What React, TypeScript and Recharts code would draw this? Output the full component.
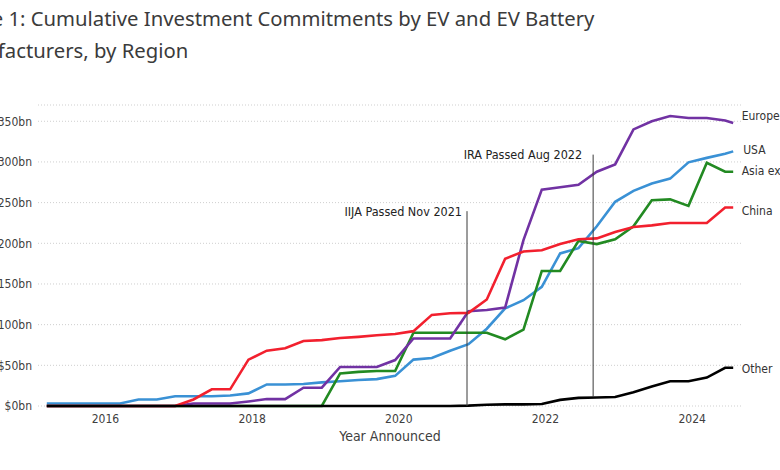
import { LineChart, Line, XAxis, YAxis, CartesianGrid, ReferenceLine, LabelList, Label } from 'recharts'

// quarterly points, last one is the partial latest reading
const years = [
  2015.2, 2015.45, 2015.7, 2015.95, 2016.2, 2016.45, 2016.7, 2016.95, 2017.2, 2017.45,
  2017.7, 2017.95, 2018.2, 2018.45, 2018.7, 2018.95, 2019.2, 2019.45, 2019.7, 2019.95,
  2020.2, 2020.45, 2020.7, 2020.95, 2021.2, 2021.45, 2021.7, 2021.95, 2022.2, 2022.45,
  2022.7, 2022.95, 2023.2, 2023.45, 2023.7, 2023.95, 2024.2, 2024.45, 2024.56,
]

// cumulative commitments, $bn
const usa = [
  3, 3, 3, 3, 3, 8, 8, 12, 12, 12,
  13, 15.5, 26.5, 26.5, 27, 29, 30.5, 32, 33, 37,
  57, 59, 68, 76, 95, 120, 130, 146.5, 187.5, 194,
  221, 251, 264.5, 273.5, 279.5, 299.5, 305, 310, 313,
]
const europe = [
  0, 0, 0, 0, 0, 0, 0, 0, 3, 3,
  3, 5.5, 8.5, 8.5, 22.5, 22.5, 48, 48, 48, 56.5,
  83, 83, 83, 116.5, 118, 121, 204, 266, 269, 272,
  288, 297, 340, 350, 356.5, 354, 354, 351, 348,
]
const asiaExChina = [
  0, 0, 0, 0, 0, 0, 0, 0, 0, 0,
  0, 0, 0, 0, 0, 0, 40, 42, 43, 43,
  90, 90, 90, 90, 90, 82, 94, 166, 166, 203,
  199, 205, 221, 253, 254, 246, 299, 288, 288,
]
const china = [
  0, 0, 0, 0, 0, 0, 0, 0, 8, 20.5,
  20.5, 57, 68, 71, 80, 81, 83.5, 85, 87, 88.5,
  92, 112, 114, 114.5, 131, 181, 190, 191.5, 199, 205,
  206, 214, 220, 222, 225, 225, 225, 244, 244,
]
const other = [
  0, 0, 0, 0, 0, 0, 0, 0, 0, 0,
  0, 0, 0, 0, 0, 0, 0, 0, 0, 0,
  0, 0, 0, 0.5, 1.5, 2, 2, 2.5, 7.5, 10,
  10.5, 11, 17, 24, 30.5, 30.5, 35, 47, 47,
]

const yearTicks = [2016, 2018, 2020, 2022, 2024]
const valueTicks = [0, 50, 100, 150, 200, 250, 300, 350]

// policy markers: label, date, and the span the marker line covers ($bn)
const actNames = ['IIJA Passed Nov 2021', 'IRA Passed Aug 2022']
const actYears = [2020.93, 2022.65]
const actFrom = [0, 11]
const actTo = [239.5, 309]

const data = years.map((year, i) => ({
  year,
  usa: usa[i],
  europe: europe[i],
  asia: asiaExChina[i],
  china: china[i],
  other: other[i],
}))

const labelFont = "'DejaVu Sans Condensed', 'DejaVu Sans', sans-serif"
const titleFont = "'Noto Sans', sans-serif"
const ink = '#404040'

const series = [
  { key: 'usa', name: 'USA', color: '#3a91d5', dx: 10, dy: -1 },
  { key: 'asia', name: 'Asia ex China', color: '#228a22', dx: 8.5, dy: -1 },
  { key: 'europe', name: 'Europe', color: '#7132a3', dx: 8.5, dy: -7 },
  { key: 'china', name: 'China', color: '#f2202e', dx: 8.5, dy: 3.5 },
  { key: 'other', name: 'Other', color: '#000000', dx: 8.5, dy: 1.5 },
]
const actGap = [5, 11]

const endLabel = (name: string, dx: number, dy: number) => (props: any) => {
  const { x, y, index } = props
  if (index !== years.length - 1) return null
  return (
    <text x={x + dx} y={y + dy} dominantBaseline="central" fontFamily={labelFont} fontSize={12} fill="#333">
      {name}
    </text>
  )
}

export default function App() {
  return (
    <div style={{ position: 'absolute', left: 0, top: 0, width: 780, height: 470, overflow: 'hidden', background: '#fff' }}>
      <LineChart width={780} height={470} data={data} margin={{ top: 105, right: 38, left: 0, bottom: 24 }}>
        <CartesianGrid vertical={false} stroke="#cfcfcf" strokeDasharray="1 2" />
        <XAxis
          dataKey="year"
          type="number"
          scale="linear"
          domain={[2015.08, 2024.68]}
          ticks={yearTicks}
          axisLine={false}
          tickLine={false}
          height={40}
          tick={{ fill: ink, fontSize: 12, fontFamily: labelFont }}
        >
          <Label
            value="Year Announced"
            position="insideBottom"
            offset={5}
            style={{ fill: ink, fontSize: 14, fontFamily: labelFont }}
          />
        </XAxis>
        <YAxis
          type="number"
          domain={[0, 370]}
          ticks={valueTicks}
          width={38}
          axisLine={false}
          tickLine={false}
          tickMargin={0}
          tickFormatter={(v) => `$${v}bn`}
          tick={{ fill: ink, fontSize: 12, fontFamily: labelFont }}
        />
        {series.map((s) => (
          <Line
            key={s.key}
            type="linear"
            dataKey={s.key}
            stroke={s.color}
            strokeWidth={2.6}
            dot={false}
            isAnimationActive={false}
          >
            <LabelList dataKey={s.key} content={endLabel(s.name, s.dx, s.dy)} />
          </Line>
        ))}
        {actNames.map((name, i) => (
          <ReferenceLine
            key={name}
            segment={[
              { x: actYears[i], y: actFrom[i] },
              { x: actYears[i], y: actTo[i] },
            ]}
            stroke="#3a3a3a"
            strokeWidth={1}
            label={(p: any) => (
              <text
                x={p.viewBox.x - actGap[i]}
                y={p.viewBox.y}
                textAnchor="end"
                dominantBaseline="central"
                fontFamily={labelFont}
                fontSize={12.5}
                fill="#222"
              >
                {name}
              </text>
            )}
          />
        ))}
      </LineChart>
      <svg width={780} height={70} style={{ position: 'absolute', left: 0, top: 0 }}>
        <text x={-57} y={26} fontFamily={titleFont} fontSize={20.3} fill="#3b3b3b">
          Figure 1: Cumulative Investment Commitments by EV and EV Battery
        </text>
        <text x={-57} y={58.3} fontFamily={titleFont} fontSize={20.3} fill="#3b3b3b">
          Manufacturers, by Region
        </text>
      </svg>
    </div>
  )
}
